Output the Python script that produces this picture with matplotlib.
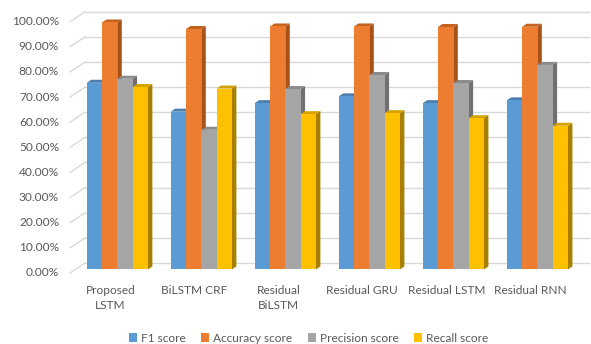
import numpy as np
import matplotlib.pyplot as plt
from matplotlib.patches import Polygon, Patch

plt.rcParams['font.family'] = ['Lato', 'DejaVu Sans']

models = ['Proposed\nLSTM', 'BiLSTM CRF', 'Residual\nBiLSTM', 'Residual GRU', 'Residual LSTM', 'Residual RNN']
f1_score = [74.3, 62.8, 66.2, 68.9, 66.2, 67.3]
accuracy_score = [98.3, 95.7, 96.7, 96.7, 96.5, 96.6]
precision_score = [75.9, 55.6, 71.8, 77.4, 74.2, 81.4]
recall_score = [72.6, 72.0, 61.8, 62.2, 60.2, 57.2]
series_names = ['F1 score', 'Accuracy score', 'Precision score', 'Recall score']
y_ticks = np.arange(0, 101, 10)

# front / top / side shades for each series
colors = ['#5b9bd5', '#ed7d31', '#a5a5a5', '#ffc000']
top_colors = ['#4a7fb0', '#c4621f', '#8a8a8a', '#d6a200']
side_colors = ['#3e6f9c', '#a8521a', '#707070', '#a87f00']
text_color = '#595959'
grid_color = '#d9d9d9'

fig = plt.figure(figsize=(5.91, 3.44), dpi=100)
ax = fig.add_axes([0, 0, 1, 1])
ax.set_xlim(-1.396, 5.639)
ax.set_ylim(-29.65, 107.24)
ax.axis('off')

# oblique depth direction (per unit depth)
DX, DY = 0.1786, 3.98
wall_front, wall_back = -0.35, 0.65
bar_depth = 0.3
bar_w = 0.182
x_left, x_right = -0.5, 5.5

# back wall gridlines and the slanted ticks on the left side wall
for t in y_ticks:
    ax.plot([x_left + wall_front * DX, x_left + wall_back * DX],
            [t + wall_front * DY, t + wall_back * DY], color=grid_color, lw=1, zorder=1)
    ax.plot([x_left + wall_back * DX, x_right + wall_back * DX],
            [t + wall_back * DY, t + wall_back * DY], color=grid_color, lw=1, zorder=1)
    ax.text(x_left + wall_front * DX - 0.13, t + wall_front * DY, '%.2f%%' % t,
            ha='right', va='center', fontsize=8.6, color=text_color)

data = [f1_score, accuracy_score, precision_score, recall_score]
x = np.arange(len(models))
z = 2
for i, c in enumerate(x):
    for j, vals in enumerate(data):
        v = vals[i]
        x0 = c - 2 * bar_w + j * bar_w
        x1 = x0 + bar_w
        ox, oy = bar_depth * DX, bar_depth * DY
        front = [(x0, 0), (x1, 0), (x1, v), (x0, v)]
        top = [(x0, v), (x1, v), (x1 + ox, v + oy), (x0 + ox, v + oy)]
        side = [(x1, 0), (x1 + ox, oy), (x1 + ox, v + oy), (x1, v)]
        ax.add_patch(Polygon(side, closed=True, fc=side_colors[j], ec='none', zorder=z))
        ax.add_patch(Polygon(top, closed=True, fc=top_colors[j], ec='none', zorder=z))
        ax.add_patch(Polygon(front, closed=True, fc=colors[j], ec='none', zorder=z))
        z += 1
    ax.text(c + wall_front * DX - 0.02, -6.3, models[i], ha='center', va='top',
            fontsize=8.6, color=text_color, linespacing=1.45)

handles = [Patch(facecolor=col, edgecolor='none') for col in colors]
fig.legend(handles, series_names, loc='lower center', bbox_to_anchor=(0.522, -0.03),
           ncol=4, frameon=False, fontsize=8.6, labelcolor=text_color,
           handlelength=0.7, handleheight=0.7, handletextpad=0.3, columnspacing=1.3)

fig.savefig('out.png', dpi=100)
